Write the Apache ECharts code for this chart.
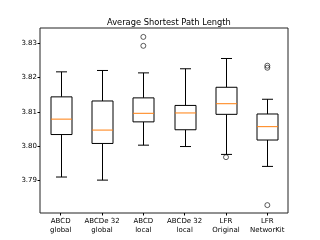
<!DOCTYPE html>
<html><head><meta charset="utf-8">
<script src="https://cdn.jsdelivr.net/npm/echarts@6/dist/echarts.min.js"></script>
<style>html,body{margin:0;padding:0;background:#fff}#c{width:320px;height:240px}</style>
</head><body><div id="c"></div>
<script>
const categories = ['ABCD\nglobal', 'ABCDe 32\nglobal', 'ABCD\nlocal', 'ABCDe 32\nlocal', 'LFR\nOriginal', 'LFR\nNetworKit'];
const whiskerLow = [3.7910, 3.7901, 3.8003, 3.7999, 3.7976, 3.7941];
const q1 = [3.8034, 3.8008, 3.8071, 3.8048, 3.8093, 3.8018];
const median = [3.8079, 3.8047, 3.8096, 3.8097, 3.8124, 3.8057];
const q3 = [3.8144, 3.8132, 3.8141, 3.8119, 3.8172, 3.8094];
const whiskerHigh = [3.8217, 3.8221, 3.8214, 3.8226, 3.8256, 3.8137];
const outlierCat = [2, 2, 4, 5, 5, 5];
const outlierVal = [3.8319, 3.8293, 3.7968, 3.8235, 3.8229, 3.7828];
const yTicks = [3.79, 3.80, 3.81, 3.82, 3.83];

const boxData = categories.map((c, i) => [i, whiskerLow[i], q1[i], median[i], q3[i], whiskerHigh[i]]);
const outData = outlierCat.map((c, i) => [c, outlierVal[i]]);

const chart = echarts.init(document.getElementById('c'), null, {renderer: 'canvas'});
chart.setOption({
  animation: false,
  title: {text: 'Average Shortest Path Length', left: 102, top: 14,
    textStyle: {fontFamily: 'DejaVu Sans', fontSize: 8.3, fontWeight: 'normal', color: '#000'}},
  grid: {left: 40, right: 32, top: 28, bottom: 27, show: true, borderColor: '#222', borderWidth: 1, backgroundColor: 'transparent'},
  xAxis: {type: 'category', data: categories, boundaryGap: true,
    axisLine: {show: false}, splitLine: {show: false},
    axisTick: {show: true, alignWithLabel: true, length: 2.5, lineStyle: {color: '#000'}},
    axisLabel: {fontFamily: 'DejaVu Sans', fontSize: 7, color: '#000', margin: 4, lineHeight: 9, interval: 0}},
  yAxis: {type: 'value', min: 3.7805, max: 3.8345,
    axisLine: {show: false}, splitLine: {show: false},
    axisTick: {show: true, length: 2.5, lineStyle: {color: '#000'}, customValues: yTicks},
    axisLabel: {fontFamily: 'DejaVu Sans', fontSize: 7, color: '#000', margin: 3, customValues: yTicks,
      formatter: v => v.toFixed(2)}},
  series: [
    {type: 'custom', data: boxData, encode: {x: 0, y: [1, 2, 3, 4, 5]},
      renderItem: function (params, api) {
        const x = api.value(0);
        const pLow = api.coord([x, api.value(1)]);
        const pQ1 = api.coord([x, api.value(2)]);
        const pMed = api.coord([x, api.value(3)]);
        const pQ3 = api.coord([x, api.value(4)]);
        const pHigh = api.coord([x, api.value(5)]);
        const cx = Math.round(pLow[0]) + 0.5;
        const hw = 10.5, cw = 5.5;
        const st = {stroke: '#000', lineWidth: 1, fill: null};
        return {type: 'group', children: [
          {type: 'line', shape: {x1: cx, y1: pLow[1], x2: cx, y2: pQ1[1]}, style: st},
          {type: 'line', shape: {x1: cx, y1: pQ3[1], x2: cx, y2: pHigh[1]}, style: st},
          {type: 'line', shape: {x1: cx - cw, y1: pLow[1], x2: cx + cw, y2: pLow[1]}, style: st},
          {type: 'line', shape: {x1: cx - cw, y1: pHigh[1], x2: cx + cw, y2: pHigh[1]}, style: st},
          {type: 'rect', shape: {x: cx - hw, y: pQ3[1], width: 2 * hw, height: pQ1[1] - pQ3[1]}, style: {stroke: '#000', lineWidth: 1, fill: '#fff'}},
          {type: 'line', shape: {x1: cx - hw, y1: pMed[1], x2: cx + hw, y2: pMed[1]}, style: {stroke: '#ff7f0e', lineWidth: 1}}
        ]};
      }},
    {type: 'scatter', data: outData, symbol: 'circle', symbolSize: 5,
      itemStyle: {color: 'transparent', borderColor: '#000', borderWidth: 0.8}}
  ]
});
</script></body></html>
